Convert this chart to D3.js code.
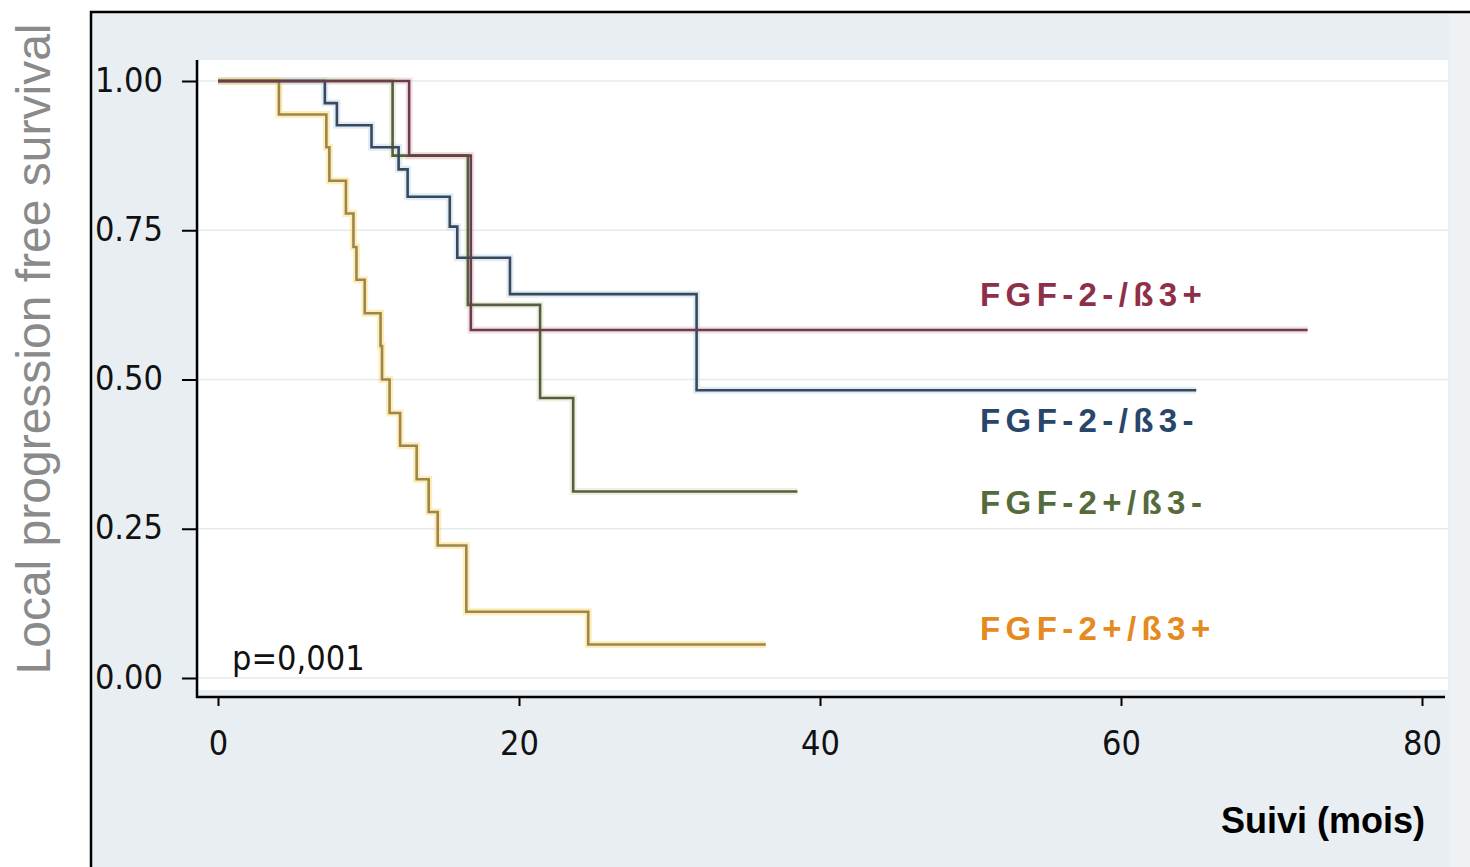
<!DOCTYPE html>
<html>
<head>
<meta charset="utf-8">
<script src="https://cdn.jsdelivr.net/npm/d3@7"></script>
<style>
  body { margin: 0; background: #fff; }
  svg { display: block; }
</style>
</head>
<body>
<div id="chart"></div>
<script>
// groups / labels
const groups = ["FGF-2-/ß3+", "FGF-2-/ß3-", "FGF-2+/ß3-", "FGF-2+/ß3+"];

// Kaplan-Meier steps: time of each drop (months) and survival after it
const timesRed = [0, 12.7, 16.8, 72.4];
const survRed = [1, 0.875, 0.583, 0.583];

const timesBlue = [0, 7.1, 7.9, 10.2, 12.0, 12.6, 15.4, 15.9, 19.4, 31.8, 65.0];
const survBlue = [1, 0.963, 0.926, 0.889, 0.852, 0.806, 0.756, 0.704, 0.643, 0.482, 0.482];

const timesGreen = [0, 11.6, 16.6, 21.4, 23.6, 38.5];
const survGreen = [1, 0.875, 0.625, 0.469, 0.3125, 0.3125];

const timesOrange = [0, 4.05, 7.2, 7.4, 8.5, 9.0, 9.2, 9.75, 10.8, 10.9, 11.4, 12.1, 13.2, 14.0, 14.6, 16.5, 24.6, 36.4];
const survOrange = [1, 0.944, 0.889, 0.833, 0.778, 0.722, 0.667, 0.611, 0.556, 0.5, 0.444, 0.389, 0.333, 0.278, 0.222, 0.111, 0.056, 0.056];

const xTicks = [0, 20, 40, 60, 80];
const yTicks = [0, 0.25, 0.5, 0.75, 1];

const width = 1470, height = 867;
const narrow = "'Liberation Sans Narrow', 'Arial Narrow', 'DejaVu Sans Condensed', sans-serif";

const svg = d3.select("#chart").append("svg").attr("width", width).attr("height", height);

// outer panel
svg.append("rect").attr("x", 91).attr("y", 12).attr("width", 1400).attr("height", 900)
  .attr("fill", "#e8eef1").attr("stroke", "#000").attr("stroke-width", 2.5);
svg.append("rect").attr("x", 1449).attr("y", 14).attr("width", 30).attr("height", 860)
  .attr("fill", "#eef2f4");
// plot region
svg.append("rect").attr("x", 199).attr("y", 60).attr("width", 1249).attr("height", 630)
  .attr("fill", "#fff");

const x = d3.scaleLinear().domain([0, 80]).range([218, 1422]);
const y = d3.scaleLinear().domain([0, 1]).range([678, 81]);

// gridlines
svg.append("g").selectAll("line").data(yTicks).join("line")
  .attr("x1", 199).attr("x2", 1448)
  .attr("y1", d => y(d)).attr("y2", d => y(d))
  .attr("stroke", "#e6eaec").attr("stroke-width", 1.5);

// curves
const series = [
  { name: groups[0], t: timesRed, s: survRed, line: "#6a3d4d", halo: "#e8b8c8", text: "#8e3048" },
  { name: groups[1], t: timesBlue, s: survBlue, line: "#39495a", halo: "#b8d4ea", text: "#27466a" },
  { name: groups[2], t: timesGreen, s: survGreen, line: "#565e42", halo: "#d8e0b8", text: "#566b3c" },
  { name: groups[3], t: timesOrange, s: survOrange, line: "#9c8650", halo: "#ffd860", text: "#e58a1e" }
];

const line = d3.line().x(d => x(d[0])).y(d => y(d[1])).curve(d3.curveStepAfter);

const curves = svg.append("g").attr("fill", "none");
series.forEach(function(d) {
  const pts = d.t.map((t, i) => [t, d.s[i]]);
  curves.append("path").attr("d", line(pts))
    .attr("stroke", d.halo).attr("stroke-opacity", 0.45).attr("stroke-width", 7);
});
series.slice().reverse().forEach(function(d) {
  const pts = d.t.map((t, i) => [t, d.s[i]]);
  curves.append("path").attr("d", line(pts))
    .attr("stroke", d.line).attr("stroke-width", 2.6);
});

// curve labels
svg.append("g").selectAll("text").data(series).join("text")
  .attr("x", 980)
  .attr("y", (d, i) => [306, 432, 514, 640][i])
  .attr("fill", d => d.text)
  .attr("font-family", "'Liberation Sans', Arial, sans-serif")
  .attr("font-weight", "bold")
  .attr("font-size", 33)
  .attr("letter-spacing", 5.4)
  .text(d => d.name);

// axes
const yAxis = d3.axisLeft(y).tickValues(yTicks).tickFormat(d3.format(".2f")).tickSize(15).tickSizeOuter(0);
const gy = svg.append("g").attr("transform", "translate(197,0)").call(yAxis);
gy.select(".domain").remove();
gy.selectAll(".tick line").attr("stroke", "#000").attr("stroke-width", 2);
gy.selectAll(".tick text")
  .attr("x", -34).attr("dy", null).attr("y", 10)
  .attr("font-family", narrow).attr("font-size", 34)
  .attr("fill", "#111");
svg.append("line").attr("x1", 197).attr("x2", 197).attr("y1", 60).attr("y2", 698)
  .attr("stroke", "#000").attr("stroke-width", 2.5);

const xAxis = d3.axisBottom(x).tickValues(xTicks).tickFormat(d3.format("d")).tickSize(9).tickSizeOuter(0);
const gx = svg.append("g").attr("transform", "translate(0,697)").call(xAxis);
gx.select(".domain").remove();
gx.selectAll(".tick line").attr("stroke", "#000").attr("stroke-width", 2);
gx.selectAll(".tick text")
  .attr("y", 58).attr("dy", null)
  .attr("font-family", narrow).attr("font-size", 34)
  .attr("fill", "#111");
svg.append("line").attr("x1", 196).attr("x2", 1445).attr("y1", 697).attr("y2", 697)
  .attr("stroke", "#000").attr("stroke-width", 2.5);

// p value
svg.append("text").attr("x", 232).attr("y", 670)
  .attr("font-family", narrow).attr("font-size", 34)
  .attr("fill", "#111").text("p=0,001");

// axis titles
svg.append("text").attr("x", 1425).attr("y", 833).attr("text-anchor", "end")
  .attr("font-family", "'Liberation Sans', Arial, sans-serif").attr("font-weight", "bold")
  .attr("font-size", 36).attr("fill", "#000").text("Suivi (mois)");

svg.append("text")
  .attr("transform", "translate(50,349) rotate(-90)")
  .attr("text-anchor", "middle")
  .attr("font-family", "'Liberation Sans', Arial, sans-serif")
  .attr("font-size", 48).attr("fill", "#8a8a8a")
  .text("Local progression free survival");
</script>
</body>
</html>
